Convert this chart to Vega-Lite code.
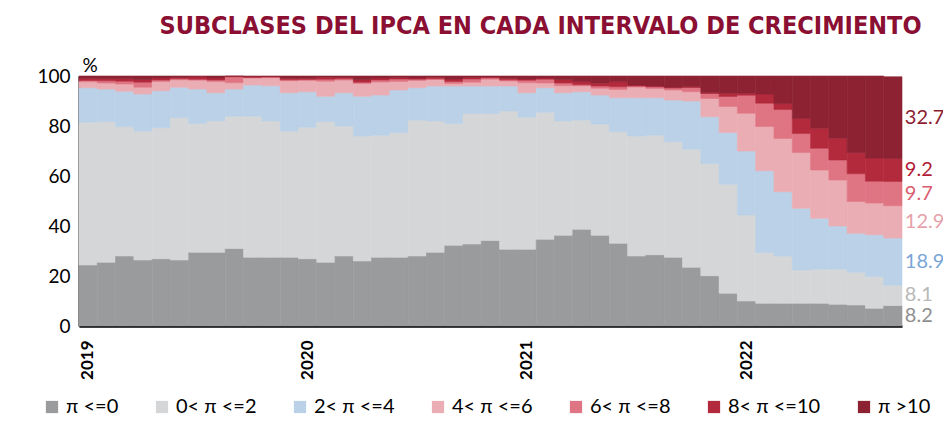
{
  "$schema": "https://vega.github.io/schema/vega-lite/v6.json",
  "width": 823,
  "height": 250,
  "autosize": {"type": "none"},
  "padding": {"left": 79, "top": 76, "right": 41, "bottom": 101},
  "background": "white",
  "title": {
    "text": "SUBCLASES DEL IPCA EN CADA INTERVALO DE CRECIMIENTO",
    "font": "DejaVu Sans Condensed, Liberation Sans, sans-serif",
    "fontSize": 25,
    "fontWeight": "bold",
    "color": "#8a0f33",
    "anchor": "middle",
    "frame": "group",
    "dx": 50,
    "offset": 17
  },
  "config": {"view": {"stroke": null}, "font": "Lato"},
  "datasets": {
    "ipca": [
      {"m": "2019-01", "c0": 24.4, "c1": 57.1, "c2": 13.8, "c3": 2.4, "c4": 0.5, "c5": 0.9, "c6": 0.9},
      {"m": "2019-02", "c0": 25.5, "c1": 56.2, "c2": 13.1, "c3": 2.4, "c4": 0.9, "c5": 0.9, "c6": 1.0},
      {"m": "2019-03", "c0": 28.0, "c1": 51.7, "c2": 14.2, "c3": 2.9, "c4": 1.1, "c5": 1.0, "c6": 1.1},
      {"m": "2019-04", "c0": 26.4, "c1": 51.6, "c2": 14.8, "c3": 2.7, "c4": 2.0, "c5": 1.0, "c6": 1.5},
      {"m": "2019-05", "c0": 26.9, "c1": 52.4, "c2": 14.8, "c3": 3.7, "c4": 0.6, "c5": 0.8, "c6": 0.8},
      {"m": "2019-06", "c0": 26.4, "c1": 56.9, "c2": 12.2, "c3": 3.0, "c4": 0.4, "c5": 0.5, "c6": 0.6},
      {"m": "2019-07", "c0": 29.5, "c1": 51.5, "c2": 13.8, "c3": 3.5, "c4": 0.4, "c5": 1.0, "c6": 0.3},
      {"m": "2019-08", "c0": 29.5, "c1": 52.5, "c2": 11.3, "c3": 4.5, "c4": 0.6, "c5": 0.8, "c6": 0.8},
      {"m": "2019-09", "c0": 31.0, "c1": 52.9, "c2": 10.9, "c3": 2.5, "c4": 2.4, "c5": 0.2, "c6": 0.1},
      {"m": "2019-10", "c0": 27.5, "c1": 56.4, "c2": 12.5, "c3": 2.8, "c4": 0.2, "c5": 0.4, "c6": 0.2},
      {"m": "2019-11", "c0": 27.5, "c1": 54.5, "c2": 14.1, "c3": 3.2, "c4": 0.3, "c5": 0.2, "c6": 0.2},
      {"m": "2019-12", "c0": 27.5, "c1": 50.5, "c2": 15.3, "c3": 4.8, "c4": 0.4, "c5": 0.6, "c6": 0.9},
      {"m": "2020-01", "c0": 26.9, "c1": 52.6, "c2": 14.2, "c3": 4.5, "c4": 0.4, "c5": 0.5, "c6": 0.9},
      {"m": "2020-02", "c0": 25.5, "c1": 56.2, "c2": 10.2, "c3": 6.0, "c4": 0.8, "c5": 0.8, "c6": 0.5},
      {"m": "2020-03", "c0": 28.0, "c1": 52.0, "c2": 13.3, "c3": 5.1, "c4": 0.5, "c5": 0.5, "c6": 0.6},
      {"m": "2020-04", "c0": 26.0, "c1": 50.0, "c2": 15.9, "c3": 5.1, "c4": 0.5, "c5": 1.0, "c6": 1.5},
      {"m": "2020-05", "c0": 27.5, "c1": 48.8, "c2": 16.1, "c3": 5.2, "c4": 0.8, "c5": 0.8, "c6": 0.8},
      {"m": "2020-06", "c0": 27.5, "c1": 49.8, "c2": 17.1, "c3": 3.4, "c4": 1.0, "c5": 0.5, "c6": 0.7},
      {"m": "2020-07", "c0": 28.0, "c1": 54.4, "c2": 12.9, "c3": 2.9, "c4": 0.5, "c5": 0.5, "c6": 0.8},
      {"m": "2020-08", "c0": 29.5, "c1": 52.5, "c2": 14.0, "c3": 2.6, "c4": 0.3, "c5": 0.6, "c6": 0.5},
      {"m": "2020-09", "c0": 32.3, "c1": 48.7, "c2": 15.0, "c3": 1.0, "c4": 0.8, "c5": 1.0, "c6": 1.2},
      {"m": "2020-10", "c0": 32.8, "c1": 52.2, "c2": 11.0, "c3": 1.5, "c4": 1.3, "c5": 0.6, "c6": 0.6},
      {"m": "2020-11", "c0": 34.2, "c1": 50.8, "c2": 11.0, "c3": 2.7, "c4": 0.6, "c5": 0.3, "c6": 0.4},
      {"m": "2020-12", "c0": 30.7, "c1": 55.3, "c2": 10.0, "c3": 2.0, "c4": 0.5, "c5": 0.6, "c6": 0.9},
      {"m": "2021-01", "c0": 30.7, "c1": 52.8, "c2": 9.8, "c3": 4.0, "c4": 1.0, "c5": 0.5, "c6": 1.2},
      {"m": "2021-02", "c0": 34.7, "c1": 50.8, "c2": 9.8, "c3": 1.9, "c4": 1.5, "c5": 0.5, "c6": 0.8},
      {"m": "2021-03", "c0": 36.3, "c1": 45.7, "c2": 11.3, "c3": 2.8, "c4": 1.1, "c5": 1.3, "c6": 1.5},
      {"m": "2021-04", "c0": 38.7, "c1": 43.7, "c2": 11.3, "c3": 2.4, "c4": 0.4, "c5": 1.3, "c6": 2.2},
      {"m": "2021-05", "c0": 36.3, "c1": 44.5, "c2": 11.6, "c3": 2.7, "c4": 0.9, "c5": 1.1, "c6": 2.9},
      {"m": "2021-06", "c0": 33.1, "c1": 44.6, "c2": 13.6, "c3": 3.3, "c4": 1.1, "c5": 2.0, "c6": 2.3},
      {"m": "2021-07", "c0": 28.0, "c1": 48.0, "c2": 15.3, "c3": 4.3, "c4": 0.4, "c5": 0.4, "c6": 3.6},
      {"m": "2021-08", "c0": 28.5, "c1": 47.8, "c2": 15.0, "c3": 3.7, "c4": 0.7, "c5": 0.3, "c6": 4.0},
      {"m": "2021-09", "c0": 27.5, "c1": 46.2, "c2": 16.7, "c3": 4.0, "c4": 0.8, "c5": 0.3, "c6": 4.5},
      {"m": "2021-10", "c0": 23.5, "c1": 47.2, "c2": 19.3, "c3": 3.7, "c4": 1.7, "c5": 0.3, "c6": 4.3},
      {"m": "2021-11", "c0": 20.1, "c1": 44.9, "c2": 18.7, "c3": 7.3, "c4": 2.0, "c5": 0.3, "c6": 6.7},
      {"m": "2021-12", "c0": 13.1, "c1": 43.6, "c2": 20.7, "c3": 10.4, "c4": 4.0, "c5": 1.3, "c6": 6.9},
      {"m": "2022-01", "c0": 10.0, "c1": 34.4, "c2": 25.6, "c3": 15.1, "c4": 7.2, "c5": 0.8, "c6": 6.9},
      {"m": "2022-02", "c0": 9.1, "c1": 20.3, "c2": 32.7, "c3": 17.7, "c4": 9.3, "c5": 3.7, "c6": 7.2},
      {"m": "2022-03", "c0": 9.1, "c1": 18.9, "c2": 25.7, "c3": 21.3, "c4": 11.6, "c5": 2.4, "c6": 11.0},
      {"m": "2022-04", "c0": 9.1, "c1": 13.3, "c2": 24.7, "c3": 22.3, "c4": 7.6, "c5": 6.0, "c6": 17.0},
      {"m": "2022-05", "c0": 9.1, "c1": 13.6, "c2": 20.4, "c3": 19.3, "c4": 8.7, "c5": 8.0, "c6": 20.9},
      {"m": "2022-06", "c0": 8.7, "c1": 14.0, "c2": 17.3, "c3": 18.4, "c4": 8.0, "c5": 8.7, "c6": 24.9},
      {"m": "2022-07", "c0": 8.4, "c1": 13.1, "c2": 15.6, "c3": 12.7, "c4": 11.1, "c5": 8.5, "c6": 30.6},
      {"m": "2022-08", "c0": 7.1, "c1": 12.7, "c2": 16.7, "c3": 12.7, "c4": 8.7, "c5": 9.3, "c6": 32.8},
      {"m": "2022-09", "c0": 8.2, "c1": 8.1, "c2": 18.9, "c3": 12.9, "c4": 9.7, "c5": 9.2, "c6": 32.7}
    ]
  },
  "data": {"name": "ipca"},
  "transform": [
    {"fold": ["c0", "c1", "c2", "c3", "c4", "c5", "c6"], "as": ["key", "value"]}
  ],
  "layer": [
    {
      "mark": {"type": "bar", "strokeWidth": 0.6},
      "encoding": {
        "x": {
          "field": "m",
          "type": "ordinal",
          "title": null,
          "scale": {"paddingInner": 0, "paddingOuter": 0},
          "axis": {
            "values": ["2019-01", "2020-01", "2021-01", "2022-01"],
            "labelExpr": "slice(datum.value, 0, 4)",
            "labelAngle": -90,
            "labelAlign": "right",
            "labelBaseline": "middle",
            "labelFontSize": 17,
            "labelFontWeight": "bold",
            "labelColor": "black",
            "labelPadding": 14,
            "ticks": false,
            "grid": false,
            "domainColor": "black",
            "domainWidth": 2.5
          }
        },
        "y": {
          "field": "value",
          "type": "quantitative",
          "stack": "zero",
          "title": "%",
          "scale": {"domain": [0, 100], "nice": false},
          "axis": {
            "values": [0, 20, 40, 60, 80, 100],
            "titleAngle": 0,
            "titleX": 3,
            "titleY": -1,
            "titleAlign": "left",
            "titleBaseline": "bottom",
            "titleFontSize": 19,
            "titleFontWeight": "normal",
            "titleColor": "black",
            "ticks": false,
            "grid": false,
            "labelFontSize": 19,
            "labelColor": "black",
            "labelPadding": 9,
            "domainColor": "black",
            "domainWidth": 2
          }
        },
        "color": {
          "field": "key",
          "type": "nominal",
          "scale": {
            "domain": ["c0", "c1", "c2", "c3", "c4", "c5", "c6"],
            "range": ["#9a9b9d", "#d5d6d8", "#bad1e7", "#ebadb4", "#df7583", "#b42a3d", "#8c2232"]
          },
          "legend": {
            "title": null,
            "orient": "none",
            "legendX": -37,
            "legendY": 321,
            "direction": "horizontal",
            "symbolType": "square",
            "symbolSize": 150,
            "symbolStrokeWidth": 0,
            "labelFontSize": 20,
            "labelFont": "Lato",
            "labelColor": "black",
            "labelOffset": 4,
            "columnPadding": 33,
            "labelExpr": "['π <=0', '0< π <=2', '2< π <=4', '4< π <=6', '6< π <=8', '8< π <=10', 'π >10'][indexof(['c0', 'c1', 'c2', 'c3', 'c4', 'c5', 'c6'], datum.label)]"
          }
        },
        "stroke": {
          "field": "key",
          "type": "nominal",
          "scale": {
            "domain": ["c0", "c1", "c2", "c3", "c4", "c5", "c6"],
            "range": ["#9a9b9d", "#d5d6d8", "#bad1e7", "#ebadb4", "#df7583", "#b42a3d", "#8c2232"]
          },
          "legend": null
        },
        "order": {"field": "key", "sort": "ascending"}
      }
    },
    {
      "transform": [
        {"filter": "datum.m == '2022-09'"},
        {"stack": "value", "groupby": ["m"], "sort": [{"field": "key", "order": "ascending"}], "as": ["y0", "y1"]},
        {"calculate": "(datum.y0 + datum.y1) / 2", "as": "mid"}
      ],
      "mark": {"type": "text", "align": "left", "baseline": "middle", "dx": 12, "fontSize": 20, "font": "Lato"},
      "encoding": {
        "x": {"field": "m", "type": "ordinal", "title": null},
        "y": {"field": "mid", "type": "quantitative", "title": "%"},
        "text": {"field": "value", "type": "quantitative", "format": ".1f"},
        "color": {
          "field": "key",
          "type": "nominal",
          "scale": {
            "domain": ["c0", "c1", "c2", "c3", "c4", "c5", "c6"],
            "range": ["#8e8e8e", "#b8b8b8", "#7aa6d6", "#e6a2aa", "#d95d6e", "#b31c37", "#8c1c30"]
          },
          "legend": null
        }
      }
    }
  ],
  "resolve": {"scale": {"color": "independent"}}
}
